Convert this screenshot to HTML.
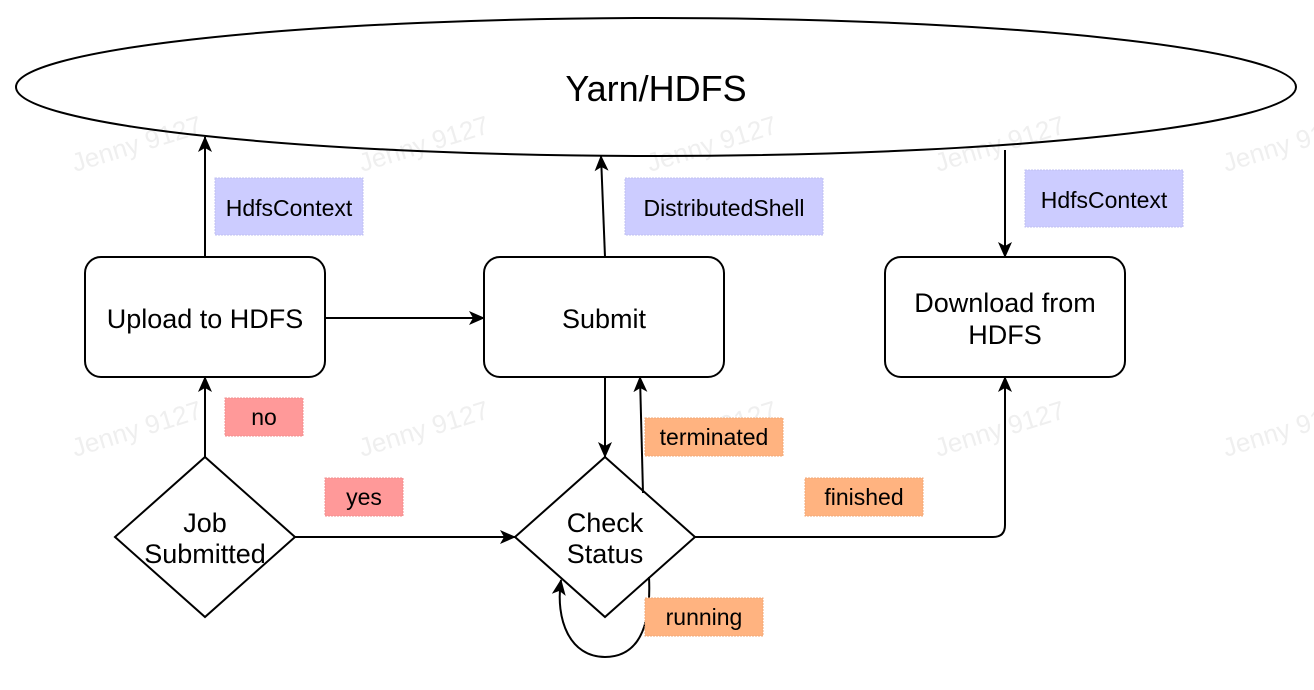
<!DOCTYPE html>
<html><head><meta charset="utf-8"><style>
html,body{margin:0;padding:0;background:#fff;}
svg{display:block;font-family:"Liberation Sans",Arial,sans-serif;}
</style></head><body>
<svg width="1314" height="690" viewBox="0 0 1314 690" xmlns="http://www.w3.org/2000/svg">
<defs>
<marker id="a" markerWidth="18" markerHeight="16" refX="15" refY="8" orient="auto" markerUnits="userSpaceOnUse">
<path d="M0,1 L16,8 L0,15 L4,8 Z" fill="#000"/>
</marker>
</defs>
<g fill="#efefef" font-size="26">
<text transform="translate(75,172) rotate(-17)">Jenny 9127</text>
<text transform="translate(362,172) rotate(-17)">Jenny 9127</text>
<text transform="translate(650,172) rotate(-17)">Jenny 9127</text>
<text transform="translate(938,172) rotate(-17)">Jenny 9127</text>
<text transform="translate(1226,172) rotate(-17)">Jenny 9127</text>
<text transform="translate(75,457) rotate(-17)">Jenny 9127</text>
<text transform="translate(362,457) rotate(-17)">Jenny 9127</text>
<text transform="translate(650,457) rotate(-17)">Jenny 9127</text>
<text transform="translate(938,457) rotate(-17)">Jenny 9127</text>
<text transform="translate(1226,457) rotate(-17)">Jenny 9127</text>
</g>
<ellipse cx="656" cy="87" rx="640" ry="69" fill="none" stroke="#000" stroke-width="2"/>
<text x="656" y="101" font-size="36" text-anchor="middle">Yarn/HDFS</text>

<g fill="none" stroke="#000" stroke-width="2">
<rect x="85" y="257" width="240" height="120" rx="16"/>
<rect x="484" y="257" width="240" height="120" rx="16"/>
<rect x="885" y="257" width="240" height="120" rx="16"/>
<path d="M205,457 L295,537 L205,617 L115,537 Z"/>
<path d="M605,457 L695,537 L605,617 L515,537 Z"/>
</g>

<g stroke="#000" stroke-width="2" fill="none">
<line x1="205" y1="257" x2="205" y2="137" marker-end="url(#a)"/>
<line x1="605" y1="257" x2="601" y2="156" marker-end="url(#a)"/>
<line x1="1005" y1="150" x2="1005" y2="257" marker-end="url(#a)"/>
<line x1="325" y1="318" x2="484" y2="318" marker-end="url(#a)"/>
<line x1="605" y1="377" x2="605" y2="457" marker-end="url(#a)"/>
<line x1="643" y1="493" x2="640" y2="377" marker-end="url(#a)"/>
<line x1="205" y1="457" x2="205" y2="377" marker-end="url(#a)"/>
<line x1="295" y1="537" x2="515" y2="537" marker-end="url(#a)"/>
<path d="M695,537 L993,537 Q1005,537 1005,525 L1005,377" marker-end="url(#a)"/>
<path d="M649,577 C652,640 630,657 605,657 C570,657 555,620 561,580" marker-end="url(#a)"/>
</g>

<g text-anchor="middle" fill="#000" font-size="27">
<text x="205" y="328">Upload to HDFS</text>
<text x="604" y="328">Submit</text>
<text x="1005" y="312">Download from</text>
<text x="1005" y="344">HDFS</text>
<text x="205" y="532">Job</text>
<text x="205" y="563">Submitted</text>
<text x="605" y="532">Check</text>
<text x="605" y="563">Status</text>
</g>

<g stroke-dasharray="2,1" stroke-width="1">
<rect x="215" y="178" width="148" height="57" fill="#ccccff" stroke="#c0c0f0"/>
<rect x="625" y="178" width="198" height="57" fill="#ccccff" stroke="#c0c0f0"/>
<rect x="1025" y="170" width="158" height="57" fill="#ccccff" stroke="#c0c0f0"/>
<rect x="225" y="398" width="78" height="38" fill="#ff9999" stroke="#f09090"/>
<rect x="325" y="478" width="78" height="38" fill="#ff9999" stroke="#f09090"/>
<rect x="645" y="418" width="138" height="38" fill="#ffb380" stroke="#f0a878"/>
<rect x="805" y="478" width="118" height="38" fill="#ffb380" stroke="#f0a878"/>
<rect x="645" y="598" width="118" height="38" fill="#ffb380" stroke="#f0a878"/>
</g>
<g font-size="23" text-anchor="middle" fill="#000">
<text x="289" y="216">HdfsContext</text>
<text x="724" y="216">DistributedShell</text>
<text x="1104" y="208">HdfsContext</text>
<text x="264" y="425">no</text>
<text x="364" y="505">yes</text>
<text x="714" y="445">terminated</text>
<text x="864" y="505">finished</text>
<text x="704" y="625">running</text>
</g>
</svg>
</body></html>
